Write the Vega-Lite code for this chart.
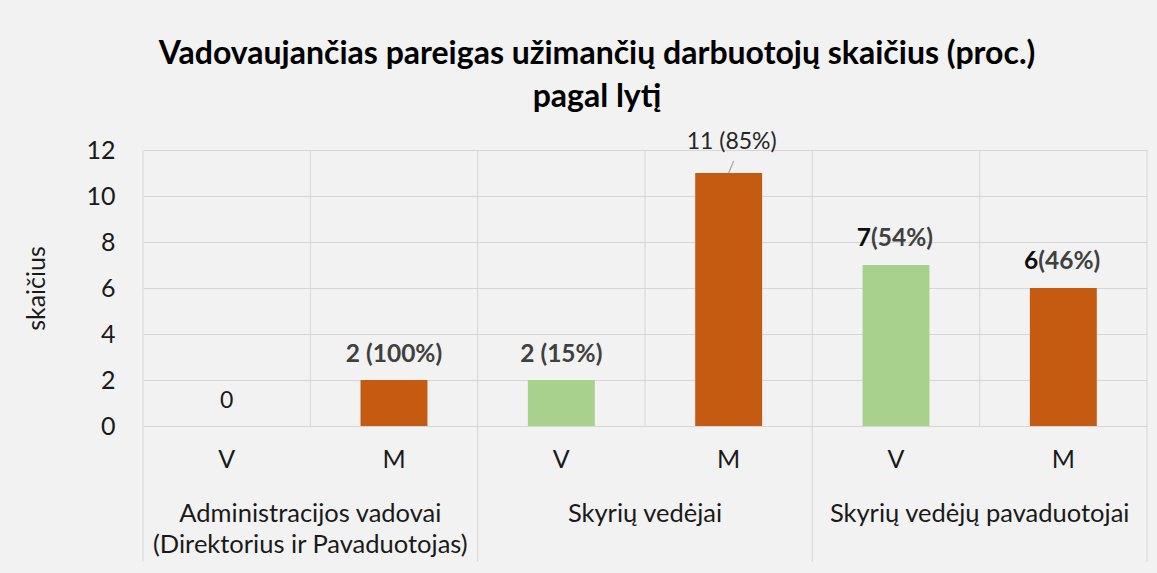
{
  "$schema": "https://vega.github.io/schema/vega-lite/v6.json",
  "width": 1004,
  "height": 276,
  "autosize": {"type": "none"},
  "padding": {"left": 143, "top": 150, "right": 10, "bottom": 147},
  "background": "#f2f2f2",
  "config": {"view": {"stroke": null}, "font": "Lato"},
  "title": {
    "text": ["Vadovaujančias pareigas užimančių darbuotojų skaičius (proc.)", "pagal lytį"],
    "anchor": "middle",
    "frame": "group",
    "dx": -48,
    "offset": 17,
    "lineHeight": 43,
    "fontSize": 32,
    "fontWeight": "bold",
    "color": "#000000",
    "font": "Lato"
  },
  "datasets": {
    "bars": [
      {"grupe": "Administracijos vadovai", "key": "A|V", "lytis": "V", "skaicius": 0, "label": "0", "num": "0", "pct": ""},
      {"grupe": "Administracijos vadovai", "key": "A|M", "lytis": "M", "skaicius": 2, "label": "2 (100%)", "num": "2", "pct": "(100%)"},
      {"grupe": "Skyrių vedėjai", "key": "S|V", "lytis": "V", "skaicius": 2, "label": "2 (15%)", "num": "2", "pct": "(15%)"},
      {"grupe": "Skyrių vedėjai", "key": "S|M", "lytis": "M", "skaicius": 11, "label": "11 (85%)", "num": "11", "pct": "(85%)"},
      {"grupe": "Skyrių vedėjų pavaduotojai", "key": "P|V", "lytis": "V", "skaicius": 7, "label": "7(54%)", "num": "7", "pct": "(54%)"},
      {"grupe": "Skyrių vedėjų pavaduotojai", "key": "P|M", "lytis": "M", "skaicius": 6, "label": "6(46%)", "num": "6", "pct": "(46%)"}
    ],
    "groups": [
      {"key": "A|M", "grupe": "Administracijos  vadovai\n(Direktorius ir Pavaduotojas)"},
      {"key": "S|M", "grupe": "Skyrių vedėjai"},
      {"key": "P|M", "grupe": "Skyrių vedėjų pavaduotojai"}
    ]
  },
  "data": {"name": "bars"},
  "encoding": {
    "x": {
      "field": "key",
      "type": "nominal",
      "sort": null,
      "scale": {"domain": ["A|V", "A|M", "S|V", "S|M", "P|V", "P|M"], "paddingInner": 0, "paddingOuter": 0},
      "axis": {
        "title": null,
        "labelExpr": "slice(datum.label, 2)",
        "labelAngle": 0,
        "labelFontSize": 25,
        "labelColor": "#1a1a1a",
        "labelPadding": 21,
        "domain": false,
        "ticks": false,
        "grid": false
      }
    }
  },
  "layer": [
    {
      "transform": [{"filter": "datum.lytis == 'M'"}],
      "mark": {"type": "rule", "color": "#d6d6d6", "strokeWidth": 1},
      "encoding": {
        "x": {"field": "key", "type": "nominal", "bandPosition": 0},
        "y": {"datum": 12, "type": "quantitative", "scale": {"domain": [0, 12], "nice": false}},
        "y2": {"datum": 0}
      }
    },
    {
      "transform": [{"filter": "datum.lytis == 'V'"}],
      "mark": {"type": "rule", "color": "#d6d6d6", "strokeWidth": 1},
      "encoding": {
        "x": {"field": "key", "type": "nominal", "bandPosition": 0},
        "y": {"datum": 12, "type": "quantitative", "scale": {"domain": [0, 12], "nice": false}},
        "y2": {"datum": -5.9}
      }
    },
    {
      "transform": [{"filter": "datum.key == 'P|M'"}],
      "mark": {"type": "rule", "color": "#d6d6d6", "strokeWidth": 1},
      "encoding": {
        "x": {"field": "key", "type": "nominal", "bandPosition": 1},
        "y": {"datum": 12, "type": "quantitative", "scale": {"domain": [0, 12], "nice": false}},
        "y2": {"datum": -5.9}
      }
    },
    {
      "mark": {"type": "bar", "width": {"band": 0.4}},
      "encoding": {
        "y": {
          "field": "skaicius",
          "type": "quantitative",
          "scale": {"domain": [0, 12], "nice": false},
          "axis": {
            "title": "skaičius",
            "titleFontSize": 25,
            "titleFontWeight": "normal",
            "titleColor": "#1a1a1a",
            "titlePadding": 36,
            "values": [0, 2, 4, 6, 8, 10, 12],
            "labelFontSize": 25,
            "labelColor": "#1a1a1a",
            "labelPadding": 28,
            "domain": false,
            "ticks": false,
            "grid": true,
            "gridColor": "#d6d6d6",
            "gridWidth": 1
          }
        },
        "color": {
          "field": "lytis",
          "type": "nominal",
          "scale": {"domain": ["V", "M"], "range": ["#A9D18E", "#C55A11"]},
          "legend": null
        }
      }
    },
    {
      "transform": [{"filter": "datum.key == 'A|M' || datum.key == 'S|V'"}],
      "mark": {"type": "text", "fontSize": 24.5, "fontWeight": "bold", "color": "#404040", "baseline": "alphabetic", "dy": -18},
      "encoding": {
        "y": {"field": "skaicius", "type": "quantitative", "scale": {"domain": [0, 12], "nice": false}},
        "text": {"field": "label"}
      }
    },
    {
      "transform": [{"filter": "datum.key == 'A|V'"}],
      "mark": {"type": "text", "fontSize": 23, "color": "#1a1a1a", "baseline": "alphabetic", "dy": -18},
      "encoding": {
        "y": {"field": "skaicius", "type": "quantitative", "scale": {"domain": [0, 12], "nice": false}},
        "text": {"field": "label"}
      }
    },
    {
      "transform": [{"filter": "datum.key == 'S|M'"}],
      "mark": {"type": "text", "fontSize": 23, "color": "#262626", "baseline": "alphabetic", "dx": 3, "dy": -24},
      "encoding": {
        "y": {"field": "skaicius", "type": "quantitative", "scale": {"domain": [0, 12], "nice": false}},
        "text": {"field": "label"}
      }
    },
    {
      "transform": [{"filter": "datum.key == 'S|M'"}],
      "mark": {"type": "rule", "color": "#a6a6a6", "strokeWidth": 1.2, "x2Offset": 5, "y2Offset": -12},
      "encoding": {
        "y": {"field": "skaicius", "type": "quantitative", "scale": {"domain": [0, 12], "nice": false}},
        "x2": {"field": "key"},
        "y2": {"field": "skaicius"}
      }
    },
    {
      "transform": [{"filter": "datum.grupe == 'Skyrių vedėjų pavaduotojai'"}],
      "mark": {"type": "text", "fontSize": 24.5, "fontWeight": "bold", "color": "#0d0d0d", "baseline": "alphabetic", "align": "right", "dx": -25, "dy": -19},
      "encoding": {
        "y": {"field": "skaicius", "type": "quantitative", "scale": {"domain": [0, 12], "nice": false}},
        "text": {"field": "num"}
      }
    },
    {
      "transform": [{"filter": "datum.grupe == 'Skyrių vedėjų pavaduotojai'"}],
      "mark": {"type": "text", "fontSize": 24.5, "fontWeight": "bold", "color": "#404040", "baseline": "alphabetic", "align": "left", "dx": -25, "dy": -19},
      "encoding": {
        "y": {"field": "skaicius", "type": "quantitative", "scale": {"domain": [0, 12], "nice": false}},
        "text": {"field": "pct"}
      }
    },
    {
      "data": {"name": "groups"},
      "mark": {"type": "text", "fontSize": 25.5, "color": "#1a1a1a", "baseline": "alphabetic", "lineBreak": "\n", "lineHeight": 31, "dy": 96},
      "encoding": {
        "x": {"field": "key", "type": "nominal", "bandPosition": 0},
        "y": {"datum": 0, "type": "quantitative", "scale": {"domain": [0, 12], "nice": false}},
        "text": {"field": "grupe"}
      }
    }
  ]
}
